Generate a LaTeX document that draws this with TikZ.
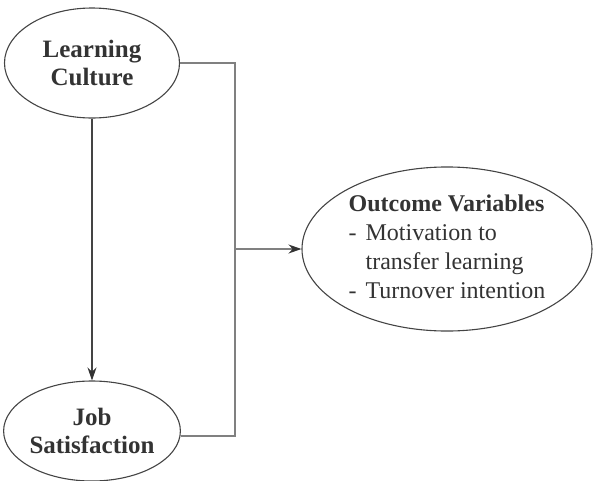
\documentclass[tikz,border=0pt]{standalone}
\usepackage{fontspec}
\setmainfont{Liberation Serif}
\usetikzlibrary{shapes.geometric,arrows.meta}
\definecolor{txt}{HTML}{333333}
\definecolor{edge}{HTML}{444444}
\definecolor{conn}{HTML}{808080}
\definecolor{tipc}{HTML}{333333}
\tikzset{
  oval/.style={ellipse, draw=edge, line width=1.1pt, inner sep=0pt, text=txt, align=center,
    font=\fontsize{25}{28}\selectfont\bfseries},
  conline/.style={draw=conn, line width=1.3pt},
  arr/.style={conline, -{Stealth[length=13pt,width=9pt,color=tipc,fill=tipc]}},
}
\begin{document}
\begin{tikzpicture}[x=1pt,y=-1pt]
\useasboundingbox (0,0) rectangle (595,480);
\node[oval, minimum width=175, minimum height=110] (lc) at (92,63) {Learning\\Culture};
\node[oval, minimum width=175, minimum height=100] (js) at (92,431) {Job\\Satisfaction};
\node[oval, minimum width=290, minimum height=138, font=\fontsize{24}{29}\selectfont, align=left] (out) at (447,249)
  {\begin{tabular}{@{}l@{\hspace{9pt}}l@{}}\multicolumn{2}{@{}l@{}}{\bfseries Outcome Variables}\\
   - & Motivation to\\
     & transfer learning\\
   - & Turnover intention\end{tabular}};
\coordinate (jn) at (235,249);
\draw[conline] (lc.east) -- (235,63) -- (235,436) -- (js.east |- 0,436);
\draw[arr] (jn) -- (out.west);
\draw[arr, draw=edge, line width=1.1pt] (lc.south) -- (js.north);
\end{tikzpicture}
\end{document}
